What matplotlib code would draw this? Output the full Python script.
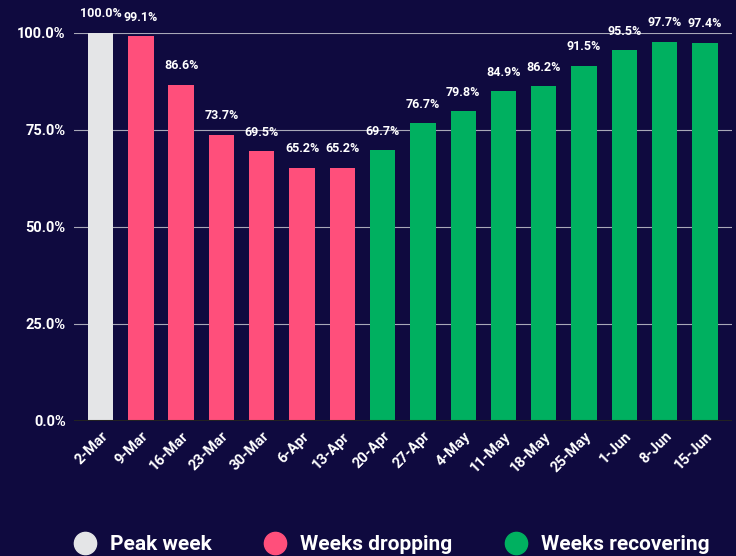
import matplotlib
matplotlib.use("Agg")
import matplotlib.pyplot as plt
from matplotlib.lines import Line2D

weeks = ["2-Mar", "9-Mar", "16-Mar", "23-Mar", "30-Mar", "6-Apr", "13-Apr",
         "20-Apr", "27-Apr", "4-May", "11-May", "18-May", "25-May", "1-Jun",
         "8-Jun", "15-Jun"]
values = [100.0, 99.1, 86.6, 73.7, 69.5, 65.2, 65.2,
          69.7, 76.7, 79.8, 84.9, 86.2, 91.5, 95.5, 97.7, 97.4]
groups = ["peak"] + ["drop"] * 6 + ["recover"] * 9
yticks = [0, 25, 50, 75, 100]

BG = "#0f0a3f"
colors = {"peak": "#e4e5e7", "drop": "#ff4f7b", "recover": "#00b060"}
legend_names = {"peak": "Peak week", "drop": "Weeks dropping",
                "recover": "Weeks recovering"}

plt.rcParams["font.family"] = ["Roboto", "DejaVu Sans"]
plt.rcParams["font.weight"] = "bold"

fig = plt.figure(figsize=(7.36, 5.56), dpi=100, facecolor=BG)
ax = fig.add_axes([0.1005, 0.243, 0.894, 0.698])
ax.set_facecolor(BG)

x = list(range(len(weeks)))
ax.bar(x, values, width=0.63, color=[colors[g] for g in groups], zorder=3)

for xi, v in zip(x, values):
    ax.annotate(f"{v:.1f}%", (xi, v), xytext=(0, 9), textcoords="offset points",
                ha="center", va="bottom", color="white", fontsize=9,
                fontweight="bold", annotation_clip=False)

ax.set_xlim(-0.66, 15.67)
ax.set_ylim(0, 100)
ax.set_yticks(yticks)
ax.set_yticklabels([f"{t:.1f}%" for t in yticks])
ax.set_xticks(x)
ax.set_xticklabels(weeks, rotation=45, ha="right", rotation_mode="anchor")
ax.tick_params(colors="white", labelsize=10.5, length=0, pad=6)
for lab in ax.get_xticklabels() + ax.get_yticklabels():
    lab.set_fontweight("bold")

ax.grid(axis="y", color="#a8a8b8", linewidth=0.8, zorder=0)
ax.axhline(0, color="#222222", linewidth=1.5, zorder=4)
for s in ax.spines.values():
    s.set_visible(False)

handles = [Line2D([0], [0], marker="o", linestyle="", markersize=16,
                  markerfacecolor=colors[g], markeredgecolor=colors[g])
           for g in ["peak", "drop", "recover"]]
leg = fig.legend(handles, [legend_names[g] for g in ["peak", "drop", "recover"]],
                 loc="lower center", bbox_to_anchor=(0.528, -0.03), ncol=3,
                 frameon=False, handletextpad=0.4, columnspacing=2.25,
                 handlelength=1.6, prop={"size": 15, "weight": "bold"})
for t in leg.get_texts():
    t.set_color("white")

fig.savefig("out.png", dpi=100, facecolor=BG)
